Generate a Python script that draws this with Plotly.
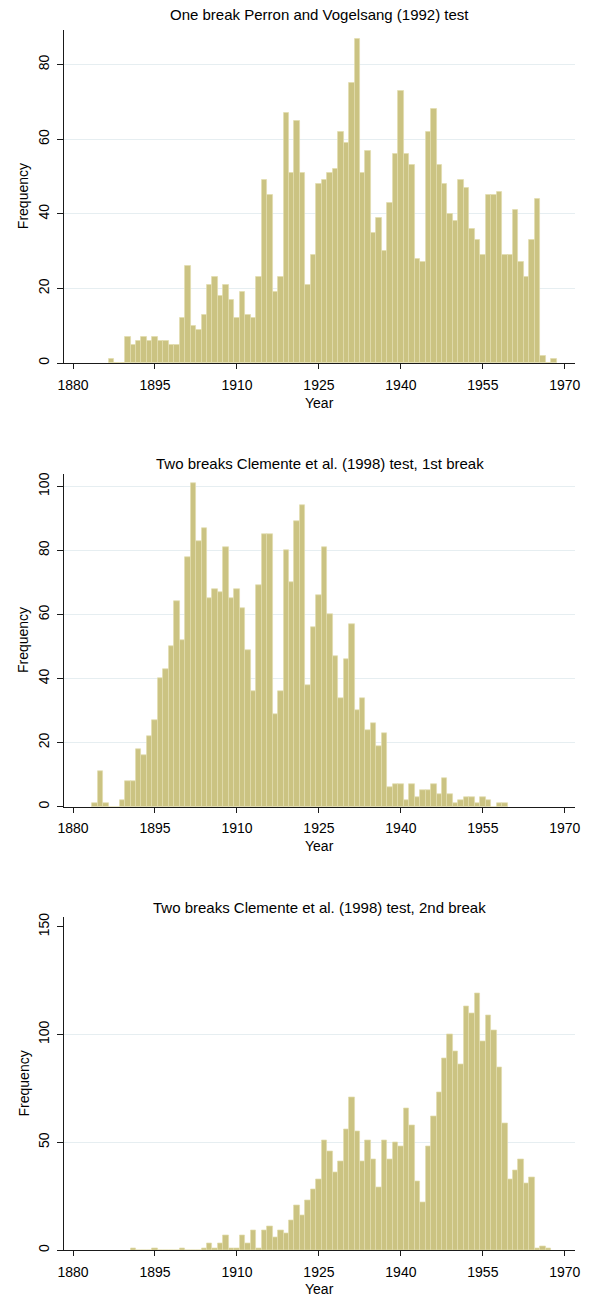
import plotly.graph_objects as go

# ---------------- data (counts per year) ----------------
years1 = list(range(1887, 1969))
counts1 = [1, 0, 0, 7, 5, 6, 7, 6, 7, 6, 6, 5, 5, 12, 26, 10, 9, 13, 21, 23,
           18, 21, 17, 12, 19, 13, 12, 23, 49, 45, 19, 23, 67, 51, 65, 51, 21,
           29, 48, 49, 51, 52, 62, 59, 75, 87, 51, 57, 35, 39, 30, 43, 56, 73,
           56, 53, 28, 27, 62, 68, 53, 48, 40, 38, 49, 47, 36, 33, 29, 45, 45,
           46, 29, 29, 41, 27, 23, 33, 44, 2, 0, 1]

years2 = list(range(1884, 1960))
counts2 = [1, 11, 1, 0, 0, 2, 8, 8, 18, 16, 22, 27, 40, 43, 50, 64, 52, 78,
           101, 83, 87, 65, 68, 67, 81, 65, 68, 62, 49, 36, 69, 85, 85, 29, 36,
           80, 70, 89, 94, 38, 56, 66, 81, 60, 47, 34, 46, 57, 30, 34, 24, 26,
           19, 23, 6, 7, 7, 2, 7, 3, 5, 5, 7, 4, 9, 4, 1, 2, 3, 3, 1, 3, 2, 0,
           1, 1]

years3 = list(range(1891, 1968))
counts3 = [1, 0, 0, 0, 1, 0, 0, 0, 0, 1, 0, 0, 0, 1, 3, 1, 3, 7, 1, 1, 7, 3,
           9, 1, 9, 11, 6, 9, 8, 14, 21, 16, 23, 28, 33, 51, 46, 36, 41, 56,
           71, 55, 41, 51, 42, 29, 51, 42, 50, 48, 66, 58, 32, 22, 48, 62, 73,
           89, 100, 92, 86, 113, 110, 119, 97, 109, 102, 85, 59, 33, 37, 42,
           31, 34, 1, 2, 1]

titles = ["One break Perron and Vogelsang (1992) test",
          "Two breaks Clemente et al. (1998) test, 1st break",
          "Two breaks Clemente et al. (1998) test, 2nd break"]
x_ticks = [1880, 1895, 1910, 1925, 1940, 1955, 1970]
y_ticks = [[0, 20, 40, 60, 80],
           [0, 20, 40, 60, 80, 100],
           [0, 50, 100, 150]]
grid_vals = [[20, 40, 60, 80],
             [20, 40, 60, 80, 100],
             [50, 100]]
y_tops = [89.3, 103.8, 154.3]

# ---------------- layout geometry (pixels) ----------------
W, H = 592, 1299
left_px, right_px = 59, 580
panels_px = [(25, 360), (471.7, 806), (917.3, 1252)]   # (top, bottom)
title_y_px = [10, 461, 907]
xtitle_y_px = [400, 846, 1291]

FONT = "Liberation Sans, Arial, Helvetica, sans-serif"
BAR = "#cbc382"
BAR_LINE = "#e2dcae"
AXIS = "#1a1a1a"
GRID = "#e6eef1"

fig = go.Figure()
series = [(years1, counts1), (years2, counts2), (years3, counts3)]

layout = dict(
    width=W, height=H,
    margin=dict(l=0, r=0, t=0, b=0),
    paper_bgcolor="white", plot_bgcolor="white",
    showlegend=False, bargap=0,
    font=dict(family=FONT, size=14, color="black"),
)
annotations = []
xdom = [left_px / W, right_px / W]

for i, ((xs, ys), (top, bot)) in enumerate(zip(series, panels_px)):
    n = "" if i == 0 else str(i + 1)
    fig.add_trace(go.Bar(
        x=xs, y=ys, width=1,
        marker=dict(color=BAR, line=dict(color=BAR_LINE, width=0.7)),
        xaxis="x" + n, yaxis="y" + n,
        hovertemplate="%{x}: %{y}<extra></extra>",
    ))
    ydom = [1 - bot / H, 1 - top / H]
    layout["xaxis" + n] = dict(
        domain=xdom, anchor="y" + n, range=[1878.33, 1971.9],
        tickmode="array", tickvals=x_ticks,
        ticks="outside", ticklen=5, tickwidth=1, tickcolor=AXIS,
        showline=True, linecolor=AXIS, linewidth=1,
        showgrid=False, zeroline=False,
        tickfont=dict(size=14, color="black"),
        ticklabelstandoff=4,
    )
    layout["yaxis" + n] = dict(
        domain=ydom, anchor="x" + n, range=[0, y_tops[i]],
        tickmode="array", tickvals=y_ticks[i],
        ticks="outside", ticklen=6, tickwidth=1, tickcolor=AXIS,
        showline=True, linecolor=AXIS, linewidth=1,
        showgrid=False, zeroline=False,
        minor=dict(tickmode="array", tickvals=grid_vals[i], ticks="",
                   showgrid=True, gridcolor=GRID, gridwidth=1),
        tickangle=-90, tickfont=dict(size=14, color="black"),
        ticklabelstandoff=2,
    )
    annotations.append(dict(
        text=titles[i], x=(left_px + right_px) / 2 / W, y=1 - title_y_px[i] / H,
        xref="paper", yref="paper", showarrow=False,
        xanchor="center", yanchor="middle", font=dict(size=15, color="black")))
    annotations.append(dict(
        text="Frequency", x=18 / W, y=1 - (top + bot) / 2 / H,
        xref="paper", yref="paper", showarrow=False, textangle=-90,
        xanchor="center", yanchor="middle", font=dict(size=14, color="black")))
    annotations.append(dict(
        text="Year", x=(left_px + right_px) / 2 / W, y=1 - xtitle_y_px[i] / H,
        xref="paper", yref="paper", showarrow=False,
        xanchor="center", yanchor="middle", font=dict(size=14, color="black")))

layout["annotations"] = annotations
fig.update_layout(**layout)
fig.write_html("out.html",
               config={"displayModeBar": False},
               post_script="document.body.style.margin='0';"
                           "document.body.style.padding='0';"
                           "document.documentElement.style.overflow='hidden';")
